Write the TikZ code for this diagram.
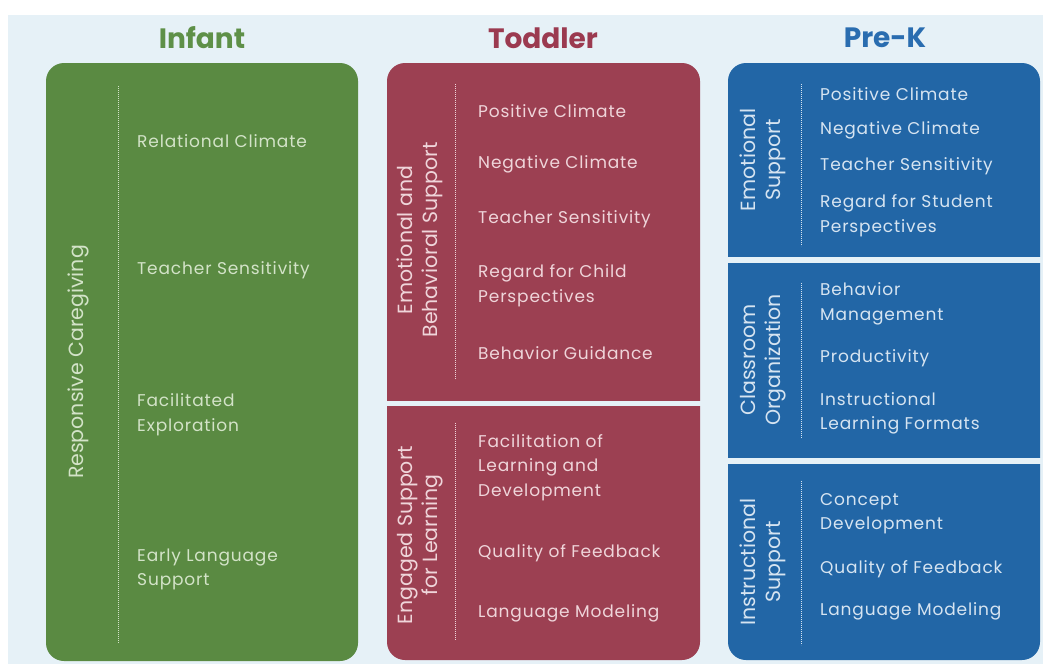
\documentclass[tikz,border=0pt]{standalone}
\usepackage{fontspec}
\setmainfont{Poppins}
\newfontfamily\itemfont[LetterSpace=5]{Poppins}
\definecolor{bgc}{HTML}{E6F1F7}
\definecolor{pgreen}{HTML}{5A8A42}
\definecolor{pred}{HTML}{9C4052}
\definecolor{pblue}{HTML}{2266A6}
\definecolor{tgreen}{HTML}{5E9048}
\definecolor{tred}{HTML}{9B3A50}
\definecolor{tblue}{HTML}{2A6DB0}
\definecolor{xgreen}{HTML}{D3E3C8}
\definecolor{xred}{HTML}{EFD5DA}
\definecolor{xblue}{HTML}{D6E4F1}
\begin{document}
\begin{tikzpicture}[x=1pt,y=-1pt,
  panel/.style={rounded corners=18pt, inner sep=0pt, draw=none, minimum width=312pt, minimum height=597pt},
  title/.style={font=\fontsize{28}{30}\selectfont\bfseries, inner sep=0pt},
  item/.style={font=\itemfont\fontsize{17}{24.5}\selectfont, anchor=west, align=left, inner sep=0pt},
  lab/.style={font=\fontsize{20.5}{25}\selectfont, rotate=90, align=center, inner sep=0pt},
  dotline/.style={line width=0.7pt, dash pattern=on 0.8pt off 1.2pt}
]
\useasboundingbox (0,0) rectangle (1043,664);
\fill[white] (0,0) rectangle (1043,664);
\fill[bgc] (8,15) rectangle (1043,664);

% panels
\node[panel, fill=pgreen, minimum height=598pt] (inf) at (202,362) {};
\node[panel, fill=pred, minimum width=313pt] (tod) at (543.5,361.5) {};
\node[panel, fill=pblue] (prek) at (884,361.5) {};
% gaps between sections
\fill[bgc] (380,401) rectangle (710,406);
\fill[bgc] (720,257) rectangle (1043,263);
\fill[bgc] (720,458) rectangle (1043,464);

% titles
\node[title, text=tgreen] (tinf) at (202,38) {Infant};
\node[title, text=tred] (ttod) at (543,38) {Toddler};
\node[title, text=tblue] (tprek) at (885,38) {Pre-K};

% dotted separators
\draw[dotline, xgreen] (118,86) -- (118,643);
\draw[dotline, xred] (455,84) -- (455,379);
\draw[dotline, xred] (455,423) -- (455,640);
\draw[dotline, xblue] (801,84) -- (801,246);
\draw[dotline, xblue] (801,283) -- (801,438);
\draw[dotline, xblue] (801,481) -- (801,645);

% Infant
\node[lab, text=xgreen] (lrc) at (78,362) {Responsive Caregiving};
\node[item, text=xgreen] (g1) at (137,141) {Relational Climate};
\node[item, text=xgreen] (g2) at (137,270) {Teacher Sensitivity};
\node[item, text=xgreen] (g3) at (137,414.5) {Facilitated\\Exploration};
\node[item, text=xgreen] (g4) at (137,569.5) {Early Language\\Support};

% Toddler
\node[lab, text=xred] (lebs) at (420,240) {Emotional and\\Behavioral Support};
\node[lab, text=xred] (lesl) at (420,535) {Engaged Support\\for Learning};
\node[item, text=xred] (r1) at (478,111) {Positive Climate};
\node[item, text=xred] (r2) at (478,164) {Negative Climate};
\node[item, text=xred] (r3) at (478,219) {Teacher Sensitivity};
\node[item, text=xred] (r4) at (478,285.5) {Regard for Child\\Perspectives};
\node[item, text=xred] (r5) at (478,353) {Behavior Guidance};
\node[item, text=xred] (r6) at (478,467.5) {Facilitation of\\Learning and\\Development};
\node[item, text=xred] (r7) at (478,553) {Quality of Feedback};
\node[item, text=xred] (r8) at (478,613) {Language Modeling};

% Pre-K
\node[lab, text=xblue] (bes) at (763,160) {Emotional\\Support};
\node[lab, text=xblue] (bco) at (763,360) {Classroom\\Organization};
\node[lab, text=xblue] (bis) at (763,562) {Instructional\\Support};
\node[item, text=xblue] (b1) at (820,94) {Positive Climate};
\node[item, text=xblue] (b2) at (820,130) {Negative Climate};
\node[item, text=xblue] (b3) at (820,166) {Teacher Sensitivity};
\node[item, text=xblue] (b4) at (820,215.5) {Regard for Student\\Perspectives};
\node[item, text=xblue] (b5) at (820,304) {Behavior\\Management};
\node[item, text=xblue] (b6) at (820,358) {Productivity};
\node[item, text=xblue] (b7) at (820,413.5) {Instructional\\Learning Formats};
\node[item, text=xblue] (b8) at (820,513.5) {Concept\\Development};
\node[item, text=xblue] (b9) at (820,569) {Quality of Feedback};
\node[item, text=xblue] (b10) at (820,611) {Language Modeling};
\end{tikzpicture}
\end{document}
